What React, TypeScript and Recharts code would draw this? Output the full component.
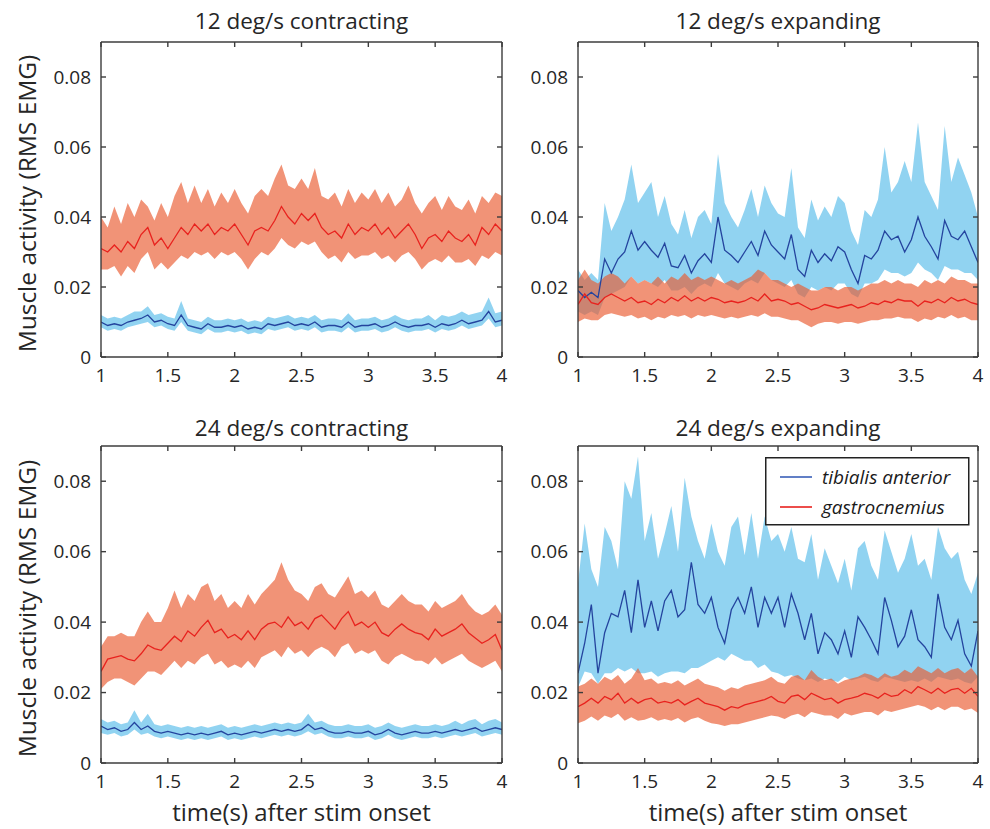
import React from 'react';
import { ComposedChart, Line, Area, XAxis, YAxis, Legend, ReferenceLine } from 'recharts';

// ---------- data (EMG values in thousandths of RMS EMG units) ----------
const TIME = [
  1, 1.05, 1.1, 1.15, 1.2, 1.25, 1.3, 1.35, 1.4, 1.45,
  1.5, 1.55, 1.6, 1.65, 1.7, 1.75, 1.8, 1.85, 1.9, 1.95,
  2, 2.05, 2.1, 2.15, 2.2, 2.25, 2.3, 2.35, 2.4, 2.45,
  2.5, 2.55, 2.6, 2.65, 2.7, 2.75, 2.8, 2.85, 2.9, 2.95,
  3, 3.05, 3.1, 3.15, 3.2, 3.25, 3.3, 3.35, 3.4, 3.45,
  3.5, 3.55, 3.6, 3.65, 3.7, 3.75, 3.8, 3.85, 3.9, 3.95,
  4,
];
const X_TICKS = [1, 1.5, 2, 2.5, 3, 3.5, 4];
const Y_TICKS = [0, 0.02, 0.04, 0.06, 0.08];
const X_DOMAIN = [1, 4];
const Y_DOMAIN = [0, 0.09];
const SERIES_NAMES = ['tibialis anterior', 'gastrocnemius'];
const PANEL_TITLES = ['12 deg/s contracting', '12 deg/s expanding', '24 deg/s contracting', '24 deg/s expanding'];
const X_LABEL = 'time(s) after stim onset';
const Y_LABEL = 'Muscle activity (RMS EMG)';

// Panel 1: 12 deg/s contracting
const P1_TA_MEAN = [
  10, 9, 9.5, 9, 10, 10.5, 11, 12, 10, 10.5,
  9.5, 9, 12, 9, 8.5, 8, 9.5, 8.5, 8.5, 9,
  8.5, 9, 8, 8.5, 8, 9.5, 9, 9.5, 10, 9,
  9.5, 9, 10, 8.5, 9, 9, 8.5, 10, 8.5, 9,
  9, 9.5, 8.5, 9, 10, 9, 8.5, 9, 9, 9.5,
  8.5, 9.5, 9, 9.5, 10.5, 9.5, 10, 10.5, 13, 10,
  10.5,
];
const P1_TA_HI = [
  12, 11, 11.5, 11, 12, 13, 13, 14.5, 12, 12.5,
  11.5, 11, 16, 11, 10.5, 10, 11.5, 10.5, 10.5, 11,
  10.5, 11, 10, 10.5, 10, 11.5, 11, 11.5, 12, 11,
  11.5, 11, 12, 10.5, 11, 11, 10.5, 12.5, 10.5, 11,
  11, 11.5, 10.5, 11, 12, 11, 10.5, 11, 11, 12,
  10.5, 12, 11.5, 12, 13, 12, 12.5, 13, 17, 12.5,
  13,
];
const P1_TA_LO = [
  8.5, 7.5, 8, 7.5, 8.5, 9, 9.5, 10, 8.5, 9,
  8, 7.5, 10, 7.5, 7, 6.5, 8, 7, 7, 7.5,
  7, 7.5, 6.5, 7, 6.5, 8, 7.5, 8, 8.5, 7.5,
  8, 7.5, 8.5, 7, 7.5, 7.5, 7, 8.5, 7, 7.5,
  7.5, 8, 7, 7.5, 8.5, 7.5, 7, 7.5, 7.5, 8,
  7, 8, 7.5, 8, 9, 8, 8.5, 9, 11, 8.5,
  9,
];
const P1_GA_MEAN = [
  31, 30, 32, 30, 33, 31, 35, 37, 32, 34,
  31, 34, 37, 35, 38, 36, 38, 35, 37, 36,
  38, 35, 32, 36, 37, 36, 39, 43, 40, 38,
  41, 39, 41, 37, 35, 36, 34, 38, 35, 37,
  36, 38, 35, 37, 34, 36, 38, 35, 31, 34,
  35, 33, 36, 34, 33, 35, 32, 37, 35, 38,
  36,
];
const P1_GA_HI = [
  40, 37, 43, 38, 44, 40, 45, 43, 39, 44,
  40, 46, 50, 44, 49, 44, 48, 43, 47, 44,
  48, 44, 41, 46, 48, 46, 51, 55, 49, 48,
  51, 48, 54, 46, 45, 47, 43, 48, 44, 47,
  45, 48, 44, 47, 43, 45, 49, 44, 41, 44,
  46, 42, 46, 43, 42, 45, 41, 46, 44, 47,
  46,
];
const P1_GA_LO = [
  25, 25, 26, 23, 26, 24, 28, 30, 25, 27,
  25, 27, 29, 28, 30, 29, 30, 28, 30, 29,
  30, 28, 25, 28, 30, 29, 31, 34, 32, 31,
  33, 32, 33, 30, 28, 29, 27, 30, 28, 29,
  29, 30, 28, 29, 27, 29, 30, 28, 25, 27,
  28, 27, 29, 27, 27, 28, 26, 29, 28, 30,
  29,
];

// Panel 2: 12 deg/s expanding
const P2_TA_MEAN = [
  19, 17, 18.5, 17, 28, 24, 28, 30, 36, 30.5,
  33, 30.5, 28.5, 32.5, 26, 25.5, 29, 24, 27.5, 29.5,
  27, 40, 30.5, 29, 27, 30, 33, 29, 36, 32,
  30, 28, 35, 25, 23, 30.5, 27, 29.5, 27.5, 31.5,
  30, 25, 21, 29, 28, 30.5, 36, 33.5, 34.5, 30,
  33.5, 40, 34.5, 31.5, 28, 39, 34.5, 33.5, 36, 31.5,
  27,
];
const P2_TA_HI = [
  25, 22, 24, 22, 44, 36, 40, 45, 55, 44,
  47, 50, 40, 46, 38, 35, 42, 34, 40, 42,
  38, 58, 44, 40, 37, 42, 48, 40, 49, 44,
  41, 40, 54, 37, 34, 45, 39, 43, 40, 46,
  44, 36, 32, 42, 40, 45, 60, 47, 50, 56,
  50, 67, 50, 46, 42, 66, 50, 57, 52, 47,
  40,
];
const P2_TA_LO = [
  13, 12, 13, 12, 17, 18, 19, 20, 23, 21,
  22, 21, 20, 22, 19, 19, 20, 18, 20, 21,
  20, 24, 21, 20, 19, 21, 22, 21, 24, 22,
  21, 20, 22, 18, 17, 20, 19, 20, 19, 21,
  21, 18, 17, 21, 21, 22, 25, 24, 24, 23,
  24, 27, 25, 24, 22, 26, 25, 25, 24, 24,
  22,
];
const P2_GA_MEAN = [
  15, 18, 15.5, 15, 17, 18, 17, 16, 17, 15.5,
  16, 15, 16.5, 15.5, 17, 16, 17.5, 16, 17, 16,
  17, 16.5, 15.5, 16, 15.5, 16, 17, 16, 18, 16,
  16.5, 16, 15, 15.5, 14.5, 13.5, 14, 15, 14.5, 14,
  14.5, 15, 14, 14.5, 15.5, 15, 16, 15.5, 16.5, 16,
  16, 14.5, 16, 15.5, 16.5, 15.5, 17, 16, 16.5, 15.5,
  15,
];
const P2_GA_HI = [
  22, 25, 22, 21, 23, 24, 23, 21, 23, 21,
  22, 21, 23, 21, 23, 22, 24, 22, 23, 22,
  23, 22, 21, 22, 21, 22, 23, 25, 24, 22,
  22, 21, 20, 21, 20, 19, 19, 20, 20, 19,
  20, 20, 19, 20, 21, 21, 22, 21, 22, 21,
  21, 20, 22, 21, 22, 21, 23, 22, 22, 21,
  21,
];
const P2_GA_LO = [
  10, 11, 10.5, 10.5, 12, 12.5, 12, 11.5, 12, 11,
  11.5, 10.5, 11.5, 11, 12, 11.5, 12, 11, 12, 11.5,
  12, 11.5, 11, 11.5, 11, 11.5, 12, 11.5, 12.5, 11.5,
  11.5, 11, 10.5, 10.5, 9.5, 8.5, 9.5, 10, 10, 9.5,
  10, 10, 9.5, 10, 10.5, 10.5, 11, 11, 11.5, 11,
  11, 10, 11, 10.5, 11.5, 11, 12, 11, 11.5, 10.5,
  10.5,
];

// Panel 3: 24 deg/s contracting
const P3_TA_MEAN = [
  10.5, 9.5, 10, 9, 9.5, 11.5, 9.5, 10.5, 9, 8.5,
  9, 8.5, 8, 8.5, 8, 8.5, 8, 8.5, 9, 8,
  8.5, 8, 8.5, 9, 8.5, 9, 9.5, 9, 9.5, 9,
  9.5, 11, 9.5, 10, 9, 8.5, 8.5, 9, 8.5, 8.5,
  9, 8, 8.5, 9.5, 8.5, 8, 8.5, 9, 8.5, 8.5,
  9, 8.5, 9, 9.5, 9, 9.5, 10, 9, 9.5, 10,
  9.5,
];
const P3_TA_HI = [
  12.5, 11.5, 12, 11, 11.5, 15, 11.5, 14, 11, 10.5,
  11, 10.5, 10, 10.5, 10, 10.5, 10, 10.5, 11, 10,
  10.5, 10, 10.5, 11, 10.5, 11, 11.5, 11, 11.5, 11,
  11.5, 14, 11.5, 12, 11, 10.5, 10.5, 11, 10.5, 10.5,
  11, 10, 10.5, 11.5, 10.5, 10, 10.5, 11, 10.5, 10.5,
  11, 10.5, 11, 12, 11, 12, 12.5, 11, 12, 12.5,
  11.5,
];
const P3_TA_LO = [
  8.5, 8, 8.5, 7.5, 8, 9.5, 8, 8.5, 7.5, 7,
  7.5, 7, 6.5, 7, 6.5, 7, 6.5, 7, 7.5, 6.5,
  7, 6.5, 7, 7.5, 7, 7.5, 8, 7.5, 8, 7.5,
  8, 9, 8, 8.5, 7.5, 7, 7, 7.5, 7, 7,
  7.5, 6.5, 7, 8, 7, 6.5, 7, 7.5, 7, 7,
  7.5, 7, 7.5, 8, 7.5, 8, 8.5, 7.5, 8, 8.5,
  8,
];
const P3_GA_MEAN = [
  26, 29.5, 30, 30.5, 29.5, 29, 31, 33.5, 32.5, 32,
  34, 36, 34.5, 37.5, 36, 38.5, 40.5, 37, 38, 35.5,
  36.5, 35, 37.5, 35, 38, 39.5, 40, 38.5, 41.5, 39,
  40, 38, 41, 42, 40, 38, 41, 43, 39, 40,
  38.5, 40, 37, 36, 38, 39.5, 38, 37, 36.5, 35,
  38, 36, 37, 38, 39.5, 37, 35.5, 34, 35, 36.5,
  32,
];
const P3_GA_HI = [
  33, 36, 36, 37, 36, 36, 40, 43, 40, 40,
  44, 49, 44, 48, 46, 50, 51, 46, 48, 44,
  46, 44, 48, 45, 48, 50, 52, 57, 52, 49,
  48, 46, 50, 51, 48, 47, 50, 53, 48, 49,
  47, 49, 45, 44, 46, 48, 46, 45, 45, 43,
  46, 44, 45, 46, 48, 45, 43, 42, 43, 45,
  42,
];
const P3_GA_LO = [
  21, 23, 24, 24, 23, 22, 24, 26, 26, 25,
  27, 29, 27, 29, 28, 30, 31, 28, 29, 27,
  28, 27, 29, 27, 30, 31, 32, 30, 33, 31,
  32, 30, 32, 33, 32, 30, 33, 34, 31, 32,
  31, 32, 29, 28, 30, 31, 30, 29, 29, 28,
  30, 28, 29, 30, 31, 29, 28, 27, 28, 29,
  26,
];

// Panel 4: 24 deg/s expanding
const P4_TA_MEAN = [
  25.5, 34, 45, 25.5, 37, 42.5, 41.5, 49, 37, 52,
  38.5, 46, 37.5, 46, 49, 41.5, 43.5, 57, 45, 42.5,
  47, 38.5, 34, 43.5, 47, 42.5, 50, 38.5, 47, 42.5,
  47, 38.5, 48, 42.5, 35, 42.5, 31, 37, 35, 31,
  37.5, 30, 41.5, 38.5, 35, 31, 47, 40.5, 33, 36,
  43.5, 35, 33, 30, 48, 38.5, 35, 40.5, 31, 27.5,
  37.5,
];
const P4_TA_HI = [
  51, 68, 55, 50, 67, 63, 55, 80, 75, 87,
  63, 71, 58, 65, 73, 60, 81, 70, 63, 58,
  68, 60, 56, 67, 70, 59, 71, 58, 70, 63,
  65, 60, 67, 58, 57, 65, 52, 61, 56, 51,
  58, 49, 61, 63, 56, 52, 66, 60, 54, 58,
  65, 56, 58, 52, 67, 61, 58, 60, 52, 48,
  54,
];
const P4_TA_LO = [
  21.5, 26, 25.5, 22.5, 25.5, 25.5, 27, 26, 27, 25.5,
  25.5, 26, 24.5, 25.5, 26, 26, 25.5, 27, 27, 28,
  29, 30, 29, 31, 30, 29, 29, 27, 28, 26,
  25.5, 24.5, 25, 24, 23.5, 24, 23, 24, 23.5, 23,
  24.5, 23.5, 24, 24.5, 23.5, 23, 24.5, 24, 23.5, 23,
  23.5, 23, 24, 23, 24.5, 24, 23.5, 24, 23, 22.5,
  24.5,
];
const P4_GA_MEAN = [
  16, 17, 18.4, 17, 18.9, 18, 19.8, 17, 18.4, 17,
  18, 18.4, 17, 17.5, 17, 18, 16.5, 17.5, 18.4, 17,
  16.5, 16, 15, 16, 15.6, 16.5, 17, 17.5, 18, 18.9,
  17.5, 17, 18.9, 19.3, 18, 19.8, 18.9, 18, 18.4, 17,
  18, 18.4, 18.9, 19.8, 19.3, 18.4, 19.8, 18.9, 19.3, 20.8,
  19.8, 21.7, 20.8, 19.8, 21.2, 19.8, 20.8, 21.2, 19.8, 21.2,
  18.9,
];
const P4_GA_HI = [
  21.7, 22.5, 24, 22.5, 24.5, 23.5, 25, 22.5, 24, 27,
  23.5, 24, 22.5, 23, 22.5, 23.5, 22, 23, 24, 22.5,
  22, 21.5, 20.5, 21.5, 21, 22, 22.5, 23, 23.5, 24.5,
  23, 22.5, 24.5, 25, 23.5, 26.4, 24.5, 23.5, 24, 22.5,
  23.5, 24, 24.5, 25.5, 25, 24, 25.5, 24.5, 25, 26.5,
  25.5, 27.5, 26.5, 25.5, 27, 25.5, 26.5, 27, 25.5, 27,
  24.5,
];
const P4_GA_LO = [
  11.3, 12, 13.2, 12, 13.5, 12.8, 14, 12, 13, 12,
  12.3, 13, 12, 12.5, 12, 12.8, 11.5, 12.5, 13, 12,
  11.3, 11, 10.5, 11, 11, 11.5, 12, 12.5, 13, 13.5,
  13.2, 12.5, 13.5, 14, 13, 14.5, 14, 13.5, 13.5, 12.5,
  14.2, 13.5, 14, 14.5, 14.5, 13.5, 15, 14.5, 15, 15.5,
  16, 16.5, 16, 15, 16, 15, 16, 16, 15, 15.5,
  14.2,
];

// ---------- styling / layout ----------
const FONT = "'Open Sans', 'Noto Sans', sans-serif";
const TA_LINE = '#24449e';
const TA_BAND = '#6cc4ec';
const GA_LINE = '#e8221e';
const GA_BAND = '#ea5b30';
const AXIS_COLOR = '#3c3c3c';
const TEXT_COLOR = '#262626';

const PANELS = [
  { title: PANEL_TITLES[0], taMean: P1_TA_MEAN, taLo: P1_TA_LO, taHi: P1_TA_HI, gaMean: P1_GA_MEAN, gaLo: P1_GA_LO, gaHi: P1_GA_HI, box: { x: 101, y: 42, w: 401, h: 315 }, legend: false },
  { title: PANEL_TITLES[1], taMean: P2_TA_MEAN, taLo: P2_TA_LO, taHi: P2_TA_HI, gaMean: P2_GA_MEAN, gaLo: P2_GA_LO, gaHi: P2_GA_HI, box: { x: 578, y: 42, w: 400, h: 315 }, legend: false },
  { title: PANEL_TITLES[2], taMean: P3_TA_MEAN, taLo: P3_TA_LO, taHi: P3_TA_HI, gaMean: P3_GA_MEAN, gaLo: P3_GA_LO, gaHi: P3_GA_HI, box: { x: 101, y: 446, w: 401, h: 317 }, legend: false },
  { title: PANEL_TITLES[3], taMean: P4_TA_MEAN, taLo: P4_TA_LO, taHi: P4_TA_HI, gaMean: P4_GA_MEAN, gaLo: P4_GA_LO, gaHi: P4_GA_HI, box: { x: 578, y: 446, w: 400, h: 317 }, legend: true },
];

const PAD_L = 70;
const PAD_T = 10;
const PAD_R = 8;
const PAD_B = 40;
const TICK_PX = 5;

const axisStroke = { stroke: AXIS_COLOR, strokeWidth: 1.4 };

function LegendBox() {
  return (
    <svg width={205} height={69} style={{ display: 'block', overflow: 'visible' }}>
      <rect x={0.75} y={0.75} width={203} height={67} fill="#fff" stroke="#222" strokeWidth={1.5} />
      <line x1={15} x2={47} y1={20} y2={20} stroke="#3a5fb8" strokeWidth={1.6} />
      <text x={57} y={26.5} fontFamily={FONT} fontStyle="italic" fontSize={19} fill="#1a1a1a">{SERIES_NAMES[0]}</text>
      <line x1={15} x2={47} y1={50} y2={50} stroke={GA_LINE} strokeWidth={1.6} />
      <text x={57} y={56.5} fontFamily={FONT} fontStyle="italic" fontSize={19} fill="#1a1a1a">{SERIES_NAMES[1]}</text>
    </svg>
  );
}

function Panel({ p }: { p: any }) {
  const data = TIME.map((t, i) => ({
    t,
    taMean: p.taMean[i] / 1000,
    taBand: [p.taLo[i] / 1000, p.taHi[i] / 1000],
    gaMean: p.gaMean[i] / 1000,
    gaBand: [p.gaLo[i] / 1000, p.gaHi[i] / 1000],
  }));
  const W = p.box.w + PAD_L + PAD_R;
  const H = p.box.h + PAD_T + PAD_B;
  const left = p.box.x - PAD_L;
  const top = p.box.y - PAD_T;
  const xMax = X_DOMAIN[1];
  const yMax = Y_DOMAIN[1];
  // tick lengths for the top / right frame, expressed in data units of this panel
  const dy = (TICK_PX / p.box.h) * (Y_DOMAIN[1] - Y_DOMAIN[0]);
  const dx = (TICK_PX / p.box.w) * (X_DOMAIN[1] - X_DOMAIN[0]);
  return (
    <div style={{ position: 'absolute', left, top, width: W, height: H }}>
      <ComposedChart width={W} height={H} data={data} margin={{ top: PAD_T, right: PAD_R, bottom: 0, left: 0 }}>
        <XAxis
          dataKey="t"
          type="number"
          domain={X_DOMAIN}
          ticks={X_TICKS}
          interval={0}
          allowDataOverflow
          height={PAD_B}
          tickSize={-TICK_PX}
          tickMargin={17}
          axisLine={axisStroke}
          tickLine={axisStroke}
          tick={{ fill: TEXT_COLOR, fontSize: 19, fontFamily: FONT }}
        />
        <YAxis
          type="number"
          domain={Y_DOMAIN}
          ticks={Y_TICKS}
          interval={0}
          allowDataOverflow
          width={PAD_L}
          tickSize={-TICK_PX}
          tickMargin={15}
          axisLine={axisStroke}
          tickLine={axisStroke}
          tick={{ fill: TEXT_COLOR, fontSize: 19, fontFamily: FONT }}
          tickFormatter={(v: number) => (v === 0 ? '0' : v.toFixed(2))}
        />
        <Area
          dataKey="taBand"
          type="linear"
          stroke="none"
          fill={TA_BAND}
          fillOpacity={0.75}
          isAnimationActive={false}
          dot={false}
          activeDot={false}
          legendType="none"
        />
        <Line
          dataKey="taMean"
          name={SERIES_NAMES[0]}
          type="linear"
          stroke={TA_LINE}
          strokeWidth={1.3}
          dot={false}
          activeDot={false}
          isAnimationActive={false}
        />
        <Area
          dataKey="gaBand"
          type="linear"
          stroke="none"
          fill={GA_BAND}
          fillOpacity={0.66}
          isAnimationActive={false}
          dot={false}
          activeDot={false}
          legendType="none"
        />
        <Line
          dataKey="gaMean"
          name={SERIES_NAMES[1]}
          type="linear"
          stroke={GA_LINE}
          strokeWidth={1.3}
          dot={false}
          activeDot={false}
          isAnimationActive={false}
        />
        {/* top and right edges of the box frame, with inward ticks */}
        <ReferenceLine y={yMax} stroke={AXIS_COLOR} strokeWidth={1.4} ifOverflow="visible" />
        <ReferenceLine x={xMax} stroke={AXIS_COLOR} strokeWidth={1.4} ifOverflow="visible" />
        {X_TICKS.map((t) => (
          <ReferenceLine
            key={'tt' + t}
            segment={[{ x: t, y: yMax }, { x: t, y: yMax - dy }]}
            stroke={AXIS_COLOR}
            strokeWidth={1.4}
            ifOverflow="visible"
          />
        ))}
        {Y_TICKS.map((v) => (
          <ReferenceLine
            key={'rt' + v}
            segment={[{ x: xMax, y: v }, { x: xMax - dx, y: v }]}
            stroke={AXIS_COLOR}
            strokeWidth={1.4}
            ifOverflow="visible"
          />
        ))}
        {p.legend && (
          <Legend
            layout="horizontal"
            verticalAlign="middle"
            align="center"
            content={() => <LegendBox />}
            wrapperStyle={{ position: 'absolute', left: 765 - left, top: 457 - top, width: 205, height: 69, margin: 0, padding: 0 }}
          />
        )}
      </ComposedChart>
    </div>
  );
}

export default function App() {
  const cx = (p: any) => p.box.x + p.box.w / 2;
  return (
    <div style={{ position: 'absolute', left: 0, top: 0, width: 990, height: 829, background: '#fff', overflow: 'hidden' }}>
      {PANELS.map((p, i) => (
        <Panel key={i} p={p} />
      ))}
      <svg width={990} height={829} style={{ position: 'absolute', left: 0, top: 0, pointerEvents: 'none' }}>
        {PANELS.map((p, i) => (
          <text key={'t' + i} x={cx(p)} y={i < 2 ? 29 : 436} textAnchor="middle" fontFamily={FONT} fontSize={22.5} fill={TEXT_COLOR}>
            {p.title}
          </text>
        ))}
        {[PANELS[0], PANELS[2]].map((p, i) => (
          <text
            key={'y' + i}
            transform={`translate(26, ${p.box.y + p.box.h / 2 + 4}) rotate(-90)`}
            textAnchor="middle"
            dominantBaseline="central"
            fontFamily={FONT}
            fontSize={24.5}
            fill={TEXT_COLOR}
          >
            {Y_LABEL}
          </text>
        ))}
        {[PANELS[2], PANELS[3]].map((p, i) => (
          <text key={'x' + i} x={cx(p)} y={821} textAnchor="middle" fontFamily={FONT} fontSize={24} fill={TEXT_COLOR}>
            {X_LABEL}
          </text>
        ))}
      </svg>
    </div>
  );
}
